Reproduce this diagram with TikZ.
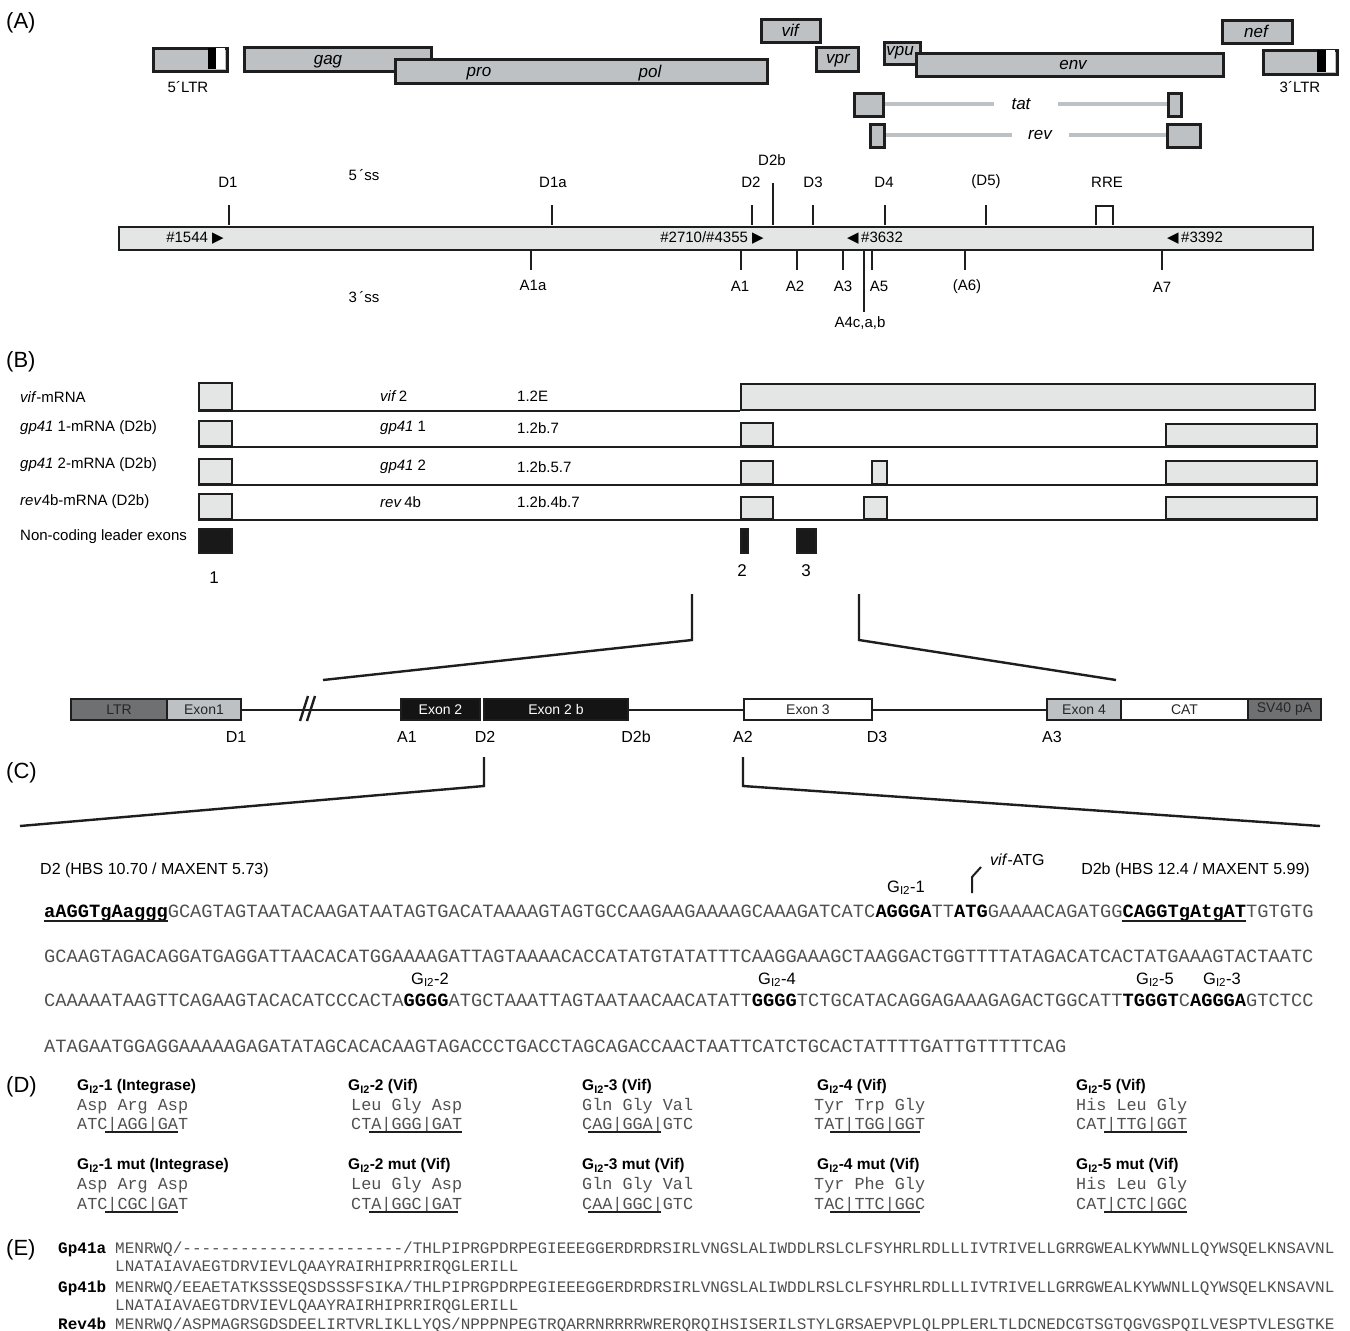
\documentclass[tikz,border=0pt]{standalone}
\usepackage{fontspec}
\setmainfont{Liberation Sans}
\setmonofont{Liberation Mono}
\newfontfamily\djv{DejaVu Sans}
\definecolor{geneg}{HTML}{BDC1C3}
\definecolor{barg}{HTML}{E4E6E5}
\definecolor{darkg}{HTML}{6F7072}
\definecolor{seqc}{HTML}{505050}
\definecolor{lnc}{HTML}{1E1E1E}
\newcommand\fsz[1]{\fontsize{#1}{#1}\selectfont}
\newcommand\bx[7]{\node[#6,anchor=north west,minimum width={(#4-#2)*1pt},minimum height={(#5-#3)*1pt},inner sep=0pt] (#1) at (#2,#3) {#7};}
\newcommand\gi[1]{G\textsubscript{I2}-#1}
\newcommand\bb[1]{{\bfseries\color{black}#1}}
\newcommand\tri{{\djv\fsz{15}▶}}
\newcommand\tril{{\djv\fsz{15}◀}}
\newcommand\dul[3]{\draw[ulb] ([xshift=#2*10.08pt,yshift=-3pt]#1.base west) -- ([xshift=#3*10.08pt,yshift=-3pt]#1.base west);}
\tikzset{
 gene/.style={draw=lnc,line width=2.8pt,fill=geneg},
 barst/.style={draw=lnc,line width=2.4pt,fill=barg},
 tk/.style={draw=lnc,line width=2.2pt},
 gline/.style={draw=geneg,line width=4pt},
 lbl/.style={inner sep=0pt,font=\fsz{15}},
 glbl/.style={inner sep=0pt,font=\fsz{17}\itshape},
 pnl/.style={inner sep=0pt,anchor=west,font=\fsz{22}},
 exs/.style={draw=lnc,line width=2pt,fill=barg},
 rl/.style={draw=lnc,line width=2pt},
 blkb/.style={draw=lnc,line width=1.5pt,fill=black!90},
 zl/.style={draw=lnc,line width=2.4pt},
 ebox/.style={draw=lnc,line width=2pt,font=\fsz{14}},
 dkb/.style={ebox,fill=darkg,text=black!85},
 grb/.style={ebox,fill=geneg,text=black!85},
 bkb/.style={ebox,fill=black!92,text=white},
 whb/.style={ebox,fill=white,text=black!85},
 elbl/.style={inner sep=0pt,font=\fsz{16}},
 sqn/.style={inner sep=0pt,anchor=base west,font=\fsz{18.72}\ttfamily,text=seqc},
 ula/.style={draw=lnc,line width=2.2pt},
 ulb/.style={draw=lnc,line width=1.6pt},
 ttl/.style={inner sep=0pt,anchor=base west,font=\fsz{15.5}\bfseries},
 dmono/.style={inner sep=0pt,anchor=base west,font=\fsz{16.8}\ttfamily,text=seqc},
 elab/.style={inner sep=0pt,anchor=base west,font=\fsz{16}\ttfamily\bfseries},
 eseq/.style={inner sep=0pt,anchor=base west,font=\fsz{16}\ttfamily,text=seqc},
}
\begin{document}
\begin{tikzpicture}[x=1pt,y=-1pt]
\useasboundingbox[fill=white] (0,0) rectangle (1350,1331);
%% ---------------- (A)
\node[pnl] (lA) at (6,23) {(A)};
\bx{ltr5}{152}{47}{226}{70}{gene}{}
\fill[black] (208,48.4) rectangle (216,68.6);
\fill[white] (216,48.4) rectangle (224.6,68.6);
\node[lbl] (ltr5l) at (188,87) {5´LTR};
\bx{gag}{243}{46}{430}{70}{gene}{}
\node[glbl] (gagl) at (328,61.5) {gag};
\bx{pol}{394}{58}{766}{82}{gene}{}
\node[glbl] (prol) at (479,73.5) {pro};
\node[glbl] (poll) at (650,73) {pol};
\bx{vif}{760}{18}{819}{41}{gene}{}
\node[glbl] (vifl) at (790,30) {vif};
\bx{vpr}{815}{46}{857}{70}{gene}{}
\node[glbl] (vprl) at (838,60.5) {vpr};
\bx{vpu}{883}{41}{919}{63}{gene}{}
\node[glbl] (vpul) at (900,53) {vpu};
\bx{env}{915}{52}{1222}{75}{gene}{}
\node[glbl] (envl) at (1073,65) {env};
\bx{nef}{1221}{19}{1291}{42}{gene}{}
\node[glbl] (nefl) at (1256,31) {nef};
\bx{ltr3}{1262}{49}{1336}{73}{gene}{}
\fill[black] (1317,50.4) rectangle (1326,71.6);
\fill[white] (1326,50.4) rectangle (1334.6,71.6);
\node[lbl] (ltr3l) at (1300,87) {3´LTR};
% tat / rev
\node[glbl] (tatl) at (1021,104) {tat};
\node[glbl] (revl) at (1040,135) {rev};
\coordinate (tatA) at (994,104); \coordinate (tatB) at (1058,104);
\coordinate (revA) at (1012,135); \coordinate (revB) at (1069,135);
\draw[gline] (870,104) -- (tatA);
\draw[gline] (tatB) -- (1172,104);
\draw[gline] (876,135) -- (revA);
\draw[gline] (revB) -- (1180,135);
\bx{tat1}{853}{92}{882}{115}{gene}{}
\bx{tat2}{1167}{92}{1180}{115}{gene}{}
\bx{rev1}{869}{123}{883}{146}{gene}{}
\bx{rev2}{1166}{123}{1199}{146}{gene}{}
% genome bar
\bx{bar}{118}{226}{1312}{249}{barst}{}
\foreach \x in {229,552,752,813,885,986} \draw[tk] (\x,205) -- (\x,225);
\draw[tk] (773,183) -- (773,225);
\draw[tk] (1096,225) -- (1096,206) -- (1113,206) -- (1113,225);
\foreach \x in {531,741,797,843,872,965,1162} \draw[tk] (\x,250) -- (\x,270);
\draw[tk] (864,250) -- (864,312);
\node[lbl] (d1) at (228,182) {D1};
\node[lbl] (d1a) at (553,182) {D1a};
\node[lbl] (d2) at (751,182) {D2};
\node[lbl] (d2b) at (772,160) {D2b};
\node[lbl] (d3) at (813,182) {D3};
\node[lbl] (d4) at (884,182) {D4};
\node[lbl] (d5) at (986,182) {(D5)};
\node[lbl] (rre) at (1107,182) {RRE};
\node[lbl] (ss5) at (364,175) {5\,´ss};
\node[lbl] (a1a) at (533,285) {A1a};
\node[lbl] (a1) at (740,286) {A1};
\node[lbl] (a2) at (795,286) {A2};
\node[lbl] (a3) at (843,286) {A3};
\node[lbl] (a5) at (879,286) {A5};
\node[lbl] (a6) at (967,287) {(A6)};
\node[lbl] (a7) at (1162,287) {A7};
\node[lbl] (a4) at (860,323) {A4c,a,b};
\node[lbl] (ss3) at (364,297) {3\,´ss};
\node[lbl] (p1) at (195,238) {\#1544 \tri};
\node[lbl] (p2) at (712,238) {\#2710/\#4355 \tri};
\node[lbl] (p3) at (875,238) {\tril\,\#3632};
\node[lbl] (p4) at (1195,238) {\tril\,\#3392};
%% ---------------- (B)
\node[pnl] (lB) at (6,362) {(B)};
\node[lbl,anchor=west] (m1) at (20,397) {\textit{vif}-mRNA};
\node[lbl,anchor=west] (m2) at (20,428) {\textit{gp41} 1-mRNA (D2b)};
\node[lbl,anchor=west] (m3) at (20,465) {\textit{gp41} 2-mRNA (D2b)};
\node[lbl,anchor=west] (m4) at (20,502) {\textit{rev}4b-mRNA (D2b)};
\node[lbl,anchor=west] (m5) at (20,537) {Non-coding leader exons};
\node[lbl,anchor=west] (n1) at (380,396) {\textit{vif}\,2};
\node[lbl,anchor=west] (n2) at (380,428) {\textit{gp41} 1};
\node[lbl,anchor=west] (n3) at (380,467) {\textit{gp41} 2};
\node[lbl,anchor=west] (n4) at (380,502) {\textit{rev}\,4b};
\node[lbl,anchor=west] (k1) at (517,396) {1.2E};
\node[lbl,anchor=west] (k2) at (517,428) {1.2b.7};
\node[lbl,anchor=west] (k3) at (517,467) {1.2b.5.7};
\node[lbl,anchor=west] (k4) at (517,502) {1.2b.4b.7};
\bx{r1a}{198}{382}{231}{409}{exs}{}
\bx{r1b}{740}{383}{1314}{409}{exs}{}
\draw[rl] (r1a.south west) -- (r1b.south west);
\bx{r2a}{198}{420}{231}{445}{exs}{}
\bx{r2b}{740}{422}{772}{445}{exs}{}
\bx{r2c}{1165}{423}{1316}{445}{exs}{}
\draw[rl] (r2a.south west) -- (r2c.south east);
\bx{r3a}{198}{458}{231}{483}{exs}{}
\bx{r3b}{740}{460}{772}{483}{exs}{}
\bx{r3s}{871}{460}{886}{483}{exs}{}
\bx{r3c}{1165}{460}{1316}{483}{exs}{}
\draw[rl] (r3a.south west) -- (r3c.south east);
\bx{r4a}{198}{493}{231}{518}{exs}{}
\bx{r4b}{740}{496}{772}{518}{exs}{}
\bx{r4s}{863}{496}{886}{518}{exs}{}
\bx{r4c}{1165}{496}{1316}{518}{exs}{}
\draw[rl] (r4a.south west) -- (r4c.south east);
\bx{nc1}{198}{528}{231}{552}{blkb}{}
\bx{nc2}{740}{528}{747}{552}{blkb}{}
\bx{nc3}{796}{528}{815}{552}{blkb}{}
\node[elbl,font=\fsz{17}] (e1n) at (214,578) {1};
\node[elbl,font=\fsz{17}] (e2n) at (742,571) {2};
\node[elbl,font=\fsz{17}] (e3n) at (806,571) {3};
% zoom lines
\coordinate (zA) at (692,594); \coordinate (zAe) at (323,680);
\coordinate (zB) at (859,594); \coordinate (zBe) at (1116,680);
\draw[zl] (zA) -- (692,640) -- (zAe);
\draw[zl] (zB) -- (859,640) -- (zBe);
%% ---------------- exon construct
\bx{eltr}{70}{698}{166}{719}{dkb}{LTR}
\bx{eex1}{166}{698}{240}{719}{grb}{Exon1}
\bx{eex2}{400}{698}{479}{719}{bkb}{Exon 2}
\bx{eex2b}{483}{698}{627}{719}{bkb}{Exon 2 b}
\bx{eex3}{743}{698}{871}{719}{whb}{Exon 3}
\bx{eex4}{1046}{698}{1120}{719}{grb}{Exon 4}
\bx{ecat}{1120}{698}{1247}{719}{whb}{CAT}
\bx{esv}{1247}{698}{1320}{719}{dkb}{SV40 pA}
\draw[rl] (eex1.east) -- (eex2.west);
\draw[rl] (eex2b.east) -- (eex3.west);
\draw[rl] (eex3.east) -- (eex4.west);
\draw[line width=2.4pt,lnc] (300,721) -- (308,696);
\draw[line width=2.4pt,lnc] (307,721) -- (315,696);
\node[elbl] (xd1) at (236,737) {D1};
\node[elbl] (xa1) at (407,737) {A1};
\node[elbl] (xd2) at (485,737) {D2};
\node[elbl] (xd2b) at (636,737) {D2b};
\node[elbl] (xa2) at (743,737) {A2};
\node[elbl] (xd3) at (877,737) {D3};
\node[elbl] (xa3) at (1052,737) {A3};
%% ---------------- (C)
\node[pnl] (lC) at (6,773) {(C)};
\coordinate (cA) at (484,757); \coordinate (cAe) at (20,826);
\coordinate (cB) at (743,757); \coordinate (cBe) at (1320,826);
\draw[zl] (cA) -- (484,786) -- (cAe);
\draw[zl] (cB) -- (743,786) -- (cBe);
\node[elbl,anchor=west,font=\fsz{16}] (hd2) at (40,870) {D2 (HBS 10.70 / MAXENT 5.73)};
\node[elbl,anchor=east,font=\fsz{16}] (hd2b) at (1310,870) {D2b (HBS 12.4 / MAXENT 5.99)};
\node[elbl,anchor=west,font=\fsz{16}] (vatg) at (990,860) {\textit{vif}-ATG};
\coordinate (atg) at (972,893);
\draw[line width=2pt,lnc] (atg) -- (972,877) -- (981,867);
\node[sqn] (s1) at (44,917) {\bb{aAGGTgAaggg}GCAGTAGTAATACAAGATAATAGTGACATAAAAGTAGTGCCAAGAAGAAAAGCAAAGATCATC\bb{AGGGA}TT\bb{ATG}GAAAACAGATGG\bb{CAGGTgAtgAT}TGTGTG};
\draw[ula] ([yshift=-4pt]s1.base west) -- ([xshift=123.6pt,yshift=-4pt]s1.base west);
\draw[ula] ([xshift=1078.4pt,yshift=-4pt]s1.base west) -- ([xshift=1202pt,yshift=-4pt]s1.base west);
\node[sqn] (s2) at (44,962) {GCAAGTAGACAGGATGAGGATTAACACATGGAAAAGATTAGTAAAACACCATATGTATATTTCAAGGAAAGCTAAGGACTGGTTTTATAGACATCACTATGAAAGTACTAATC};
\node[sqn] (s3) at (44,1006) {CAAAAATAAGTTCAGAAGTACACATCCCACTA\bb{GGGG}ATGCTAAATTAGTAATAACAACATATT\bb{GGGG}TCTGCATACAGGAGAAAGAGACTGGCATT\bb{TGGGT}C\bb{AGGGA}GTCTCC};
\node[sqn] (s4) at (44,1052) {ATAGAATGGAGGAAAAAGAGATATAGCACACAAGTAGACCCTGACCTAGCAGACCAACTAATTCATCTGCACTATTTTGATTGTTTTTCAG};
\node[elbl,anchor=base,font=\fsz{16.5}] (g1) at (906,892) {\gi{1}};
\node[elbl,anchor=base,font=\fsz{16.5}] (g2) at (430,984) {\gi{2}};
\node[elbl,anchor=base,font=\fsz{16.5}] (g4) at (777,984) {\gi{4}};
\node[elbl,anchor=base,font=\fsz{16.5}] (g5) at (1155,984) {\gi{5}};
\node[elbl,anchor=base,font=\fsz{16.5}] (g3) at (1222,984) {\gi{3}};
%% ---------------- (D)
\node[pnl] (lD) at (6,1087) {(D)};
% row 1
\node[ttl] (t11) at (77,1090.5) {\gi{1} (Integrase)};
\node[ttl] (t12) at (348,1090.5) {\gi{2} (Vif)};
\node[ttl] (t13) at (582,1090.5) {\gi{3} (Vif)};
\node[ttl] (t14) at (817,1090.5) {\gi{4} (Vif)};
\node[ttl] (t15) at (1076,1090.5) {\gi{5} (Vif)};
\node[dmono] (a11) at (77,1110) {Asp Arg Asp};
\node[dmono] (a12) at (351,1110) {Leu Gly Asp};
\node[dmono] (a13) at (582,1110) {Gln Gly Val};
\node[dmono] (a14) at (814,1110) {Tyr Trp Gly};
\node[dmono] (a15) at (1076,1110) {His Leu Gly};
\node[dmono] (c11) at (77,1129) {ATC|AGG|GAT};
\node[dmono] (c12) at (351,1129) {CTA|GGG|GAT};
\node[dmono] (c13) at (582,1129) {CAG|GGA|GTC};
\node[dmono] (c14) at (814,1129) {TAT|TGG|GGT};
\node[dmono] (c15) at (1076,1129) {CAT|TTG|GGT};
\dul{c11}{2.8}{10}
\dul{c12}{1.8}{11}
\dul{c13}{0.6}{7.8}
\dul{c14}{1.6}{10.5}
\dul{c15}{2.8}{11}
% row 2
\node[ttl] (t21) at (77,1169.5) {\gi{1} mut (Integrase)};
\node[ttl] (t22) at (348,1169.5) {\gi{2} mut (Vif)};
\node[ttl] (t23) at (582,1169.5) {\gi{3} mut (Vif)};
\node[ttl] (t24) at (817,1169.5) {\gi{4} mut (Vif)};
\node[ttl] (t25) at (1076,1169.5) {\gi{5} mut (Vif)};
\node[dmono] (a21) at (77,1189) {Asp Arg Asp};
\node[dmono] (a22) at (351,1189) {Leu Gly Asp};
\node[dmono] (a23) at (582,1189) {Gln Gly Val};
\node[dmono] (a24) at (814,1189) {Tyr Phe Gly};
\node[dmono] (a25) at (1076,1189) {His Leu Gly};
\node[dmono] (c21) at (77,1209) {ATC|CGC|GAT};
\node[dmono] (c22) at (351,1209) {CTA|GGC|GAT};
\node[dmono] (c23) at (582,1209) {CAA|GGC|GTC};
\node[dmono] (c24) at (814,1209) {TAC|TTC|GGC};
\node[dmono] (c25) at (1076,1209) {CAT|CTC|GGC};
\dul{c21}{2.8}{10}
\dul{c22}{1.8}{10.6}
\dul{c23}{0.6}{7.8}
\dul{c24}{1.6}{10.5}
\dul{c25}{2.8}{11}
%% ---------------- (E)
\node[pnl] (lE) at (6,1250) {(E)};
\node[elab] (el1) at (58,1253) {Gp41a};
\node[eseq] (es1) at (115,1253) {MENRWQ/-----------------------/THLPIPRGPDRPEGIEEEGGERDRDRSIRLVNGSLALIWDDLRSLCLFSYHRLRDLLLIVTRIVELLGRRGWEALKYWWNLLQYWSQELKNSAVNL};
\node[eseq] (es1b) at (115,1271) {LNATAIAVAEGTDRVIEVLQAAYRAIRHIPRRIRQGLERILL};
\node[elab] (el2) at (58,1292) {Gp41b};
\node[eseq] (es2) at (115,1292) {MENRWQ/EEAETATKSSSEQSDSSSFSIKA/THLPIPRGPDRPEGIEEEGGERDRDRSIRLVNGSLALIWDDLRSLCLFSYHRLRDLLLIVTRIVELLGRRGWEALKYWWNLLQYWSQELKNSAVNL};
\node[eseq] (es2b) at (115,1310) {LNATAIAVAEGTDRVIEVLQAAYRAIRHIPRRIRQGLERILL};
\node[elab] (el3) at (58,1329) {Rev4b};
\node[eseq] (es3) at (115,1329) {MENRWQ/ASPMAGRSGDSDEELIRTVRLIKLLYQS/NPPPNPEGTRQARRNRRRRWRERQRQIHSISERILSTYLGRSAEPVPLQLPPLERLTLDCNEDCGTSGTQGVGSPQILVESPTVLESGTKE};
\end{tikzpicture}
\end{document}
